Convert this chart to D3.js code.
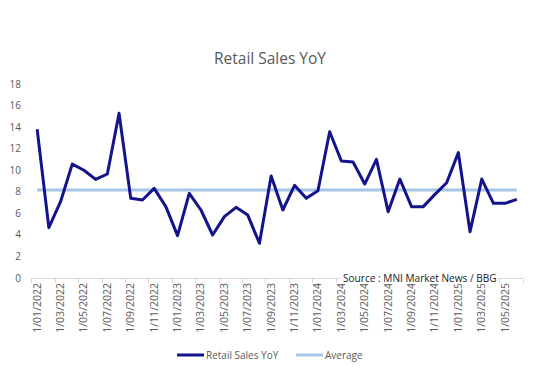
<!DOCTYPE html>
<html>
<head>
<meta charset="utf-8">
<script src="https://cdn.jsdelivr.net/npm/d3@7"></script>
<style>
  html, body { margin: 0; padding: 0; background: #fff; }
  svg { display: block; font-family: "Open Sans", "Noto Sans", sans-serif; }
</style>
</head>
<body>
<svg id="chart" width="540" height="391"></svg>
<script>
// ---- Data ----
const months = [
  "1/01/2022","1/02/2022","1/03/2022","1/04/2022","1/05/2022","1/06/2022",
  "1/07/2022","1/08/2022","1/09/2022","1/10/2022","1/11/2022","1/12/2022",
  "1/01/2023","1/02/2023","1/03/2023","1/04/2023","1/05/2023","1/06/2023",
  "1/07/2023","1/08/2023","1/09/2023","1/10/2023","1/11/2023","1/12/2023",
  "1/01/2024","1/02/2024","1/03/2024","1/04/2024","1/05/2024","1/06/2024",
  "1/07/2024","1/08/2024","1/09/2024","1/10/2024","1/11/2024","1/12/2024",
  "1/01/2025","1/02/2025","1/03/2025","1/04/2025","1/05/2025","1/06/2025"
];
const retailSalesYoY = [
  13.8, 4.67, 7.08, 10.57, 10.0, 9.15, 9.65, 15.28, 7.39, 7.24, 8.32, 6.62,
  3.93, 7.85, 6.31, 3.99, 5.69, 6.56, 5.84, 3.22, 9.46, 6.31, 8.6, 7.39,
  8.1, 13.57, 10.85, 10.76, 8.72, 11.01, 6.15, 9.18, 6.62, 6.62, 7.76, 8.84,
  11.63, 4.3, 9.18, 6.93, 6.93, 7.3
];
const averageValue = 8.16;
const averageSeries = months.map(() => averageValue);
const yTicks = [0, 2, 4, 6, 8, 10, 12, 14, 16, 18];
const xTickLabels = months.filter((d, i) => i % 2 === 0);
const seriesNames = ["Retail Sales YoY", "Average"];
const seriesColors = ["#13138A", "#A6C6E8"];
const titleText = "Retail Sales YoY";
const sourceText = "Source : MNI Market News / BBG";

// ---- Layout ----
const svg = d3.select("#chart");
const plot = { left: 31.3, right: 522.7, top: 84, bottom: 278 };

const x = d3.scaleBand().domain(months).range([plot.left, plot.right]).padding(0);
const y = d3.scaleLinear().domain([0, 18]).range([plot.bottom, plot.top]);
const cx = d => x(d) + x.bandwidth() / 2;

// Title
svg.append("text")
  .attr("x", 270).attr("y", 64)
  .attr("text-anchor", "middle")
  .attr("font-size", 15.5)
  .attr("fill", "#595959")
  .text(titleText);

// Y axis labels (no axis line)
svg.append("g").selectAll("text").data(yTicks).join("text")
  .attr("x", 21).attr("y", d => y(d))
  .attr("dy", "0.35em")
  .attr("text-anchor", "end")
  .attr("font-size", 10)
  .attr("fill", "#595959")
  .text(d => d);

// X axis line + ticks at category boundaries every 2 months
const axisG = svg.append("g");
axisG.append("line")
  .attr("x1", plot.left).attr("x2", plot.right)
  .attr("y1", plot.bottom + 0.5).attr("y2", plot.bottom + 0.5)
  .attr("stroke", "#D9D9D9").attr("stroke-width", 1);
const tickIdx = d3.range(0, months.length + 1, 2);
axisG.selectAll("line.tick").data(tickIdx).join("line")
  .attr("class", "tick")
  .attr("x1", i => Math.round(plot.left + i * x.bandwidth()) + 0.5)
  .attr("x2", i => Math.round(plot.left + i * x.bandwidth()) + 0.5)
  .attr("y1", plot.bottom).attr("y2", plot.bottom + 5)
  .attr("stroke", "#D9D9D9").attr("stroke-width", 1);

// X labels rotated
axisG.selectAll("text").data(xTickLabels).join("text")
  .attr("transform", d => `translate(${cx(d) + 3.5},${plot.bottom + 5}) rotate(-90)`)
  .attr("text-anchor", "end")
  .attr("font-size", 10.5)
  .attr("fill", "#595959")
  .text(d => d);

// Average line
const line = d3.line().x((d, i) => cx(months[i])).y(d => y(d));
svg.append("path")
  .datum(averageSeries)
  .attr("d", line)
  .attr("fill", "none")
  .attr("stroke", seriesColors[1])
  .attr("stroke-width", 3);

// Retail sales line
svg.append("path")
  .datum(retailSalesYoY)
  .attr("d", line)
  .attr("fill", "none")
  .attr("stroke", seriesColors[0])
  .attr("stroke-width", 3)
  .attr("stroke-linejoin", "round");

// Source text box
const srcG = svg.append("g");
srcG.append("rect")
  .attr("x", 340).attr("y", 271).attr("width", 158).attr("height", 13)
  .attr("fill", "#fff");
srcG.append("text")
  .attr("x", 343).attr("y", 282)
  .attr("font-size", 10.1)
  .attr("fill", "#1a1a1a")
  .text(sourceText);

// Legend
const legend = svg.append("g");
const legendItems = [
  { name: seriesNames[0], color: seriesColors[0], x1: 177 },
  { name: seriesNames[1], color: seriesColors[1], x1: 296 }
];
legendItems.forEach(it => {
  legend.append("line")
    .attr("x1", it.x1).attr("x2", it.x1 + 27)
    .attr("y1", 355).attr("y2", 355)
    .attr("stroke", it.color).attr("stroke-width", 3);
  legend.append("text")
    .attr("x", it.x1 + 29).attr("y", 355)
    .attr("dy", "0.35em")
    .attr("font-size", 10)
    .attr("fill", "#595959")
    .text(it.name);
});
</script>
</body>
</html>
